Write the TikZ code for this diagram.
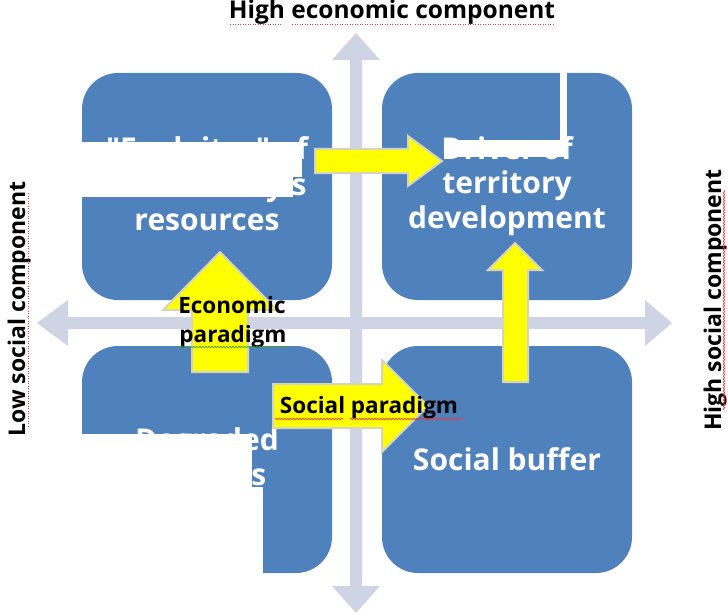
\documentclass[tikz,border=0pt]{standalone}
\usepackage{fontspec}
\newfontfamily\osfont{Open Sans}
\usetikzlibrary{decorations.pathmorphing}
\definecolor{boxblue}{RGB}{79,129,189}
\definecolor{axisgray}{RGB}{206,212,228}
\definecolor{arrowyellow}{RGB}{255,255,0}
\definecolor{arrowedge}{RGB}{212,212,192}
\definecolor{spellred}{RGB}{228,60,60}
\definecolor{spellgreen}{RGB}{70,160,70}
\begin{document}
\begin{tikzpicture}[x=1pt,y=-1pt,
  quad/.style={fill=boxblue,draw=none,rounded corners=36pt,minimum width=250pt,minimum height=227pt,inner sep=0pt,outer sep=0pt},
  boxline/.style={text=white,font=\osfont\bfseries\fontsize{30}{36}\selectfont,anchor=base,inner sep=0pt},
  paralabel/.style={text=black,font=\osfont\bfseries\fontsize{22.5}{27}\selectfont,anchor=base,inner sep=0pt},
  axislabel/.style={text=black,font=\osfont\bfseries\fontsize{23}{28}\selectfont,anchor=base,inner sep=0pt},
  axisbody/.style={fill=axisgray,draw=none},
  blockarrow/.style={fill=arrowyellow,draw=arrowedge,line width=2pt,line join=miter},
  occluder/.style={fill=white,draw=none},
  spelldot/.style={spellred,line width=0.9pt,dash pattern=on 1pt off 1.5pt},
  spellwave/.style={line width=0.7pt,decorate,decoration={snake,amplitude=0.8pt,segment length=3pt}},
]
\useasboundingbox (0,0) rectangle (728,615);
\fill[white] (0,0) rectangle (728,615);

% axes
\coordinate (vtop) at (356,33);
\coordinate (vbot) at (356,613);
\coordinate (hleft) at (37,323);
\coordinate (hright) at (672,323);
\fill[axisbody] (vtop) -- (380,60) -- (362,60) -- (362,586) -- (380,586) -- (vbot)
  -- (332,586) -- (350,586) -- (350,60) -- (332,60) -- cycle;
\fill[axisbody] (hleft) -- (68,300) -- (68,317) -- (645,317) -- (645,300) -- (hright)
  -- (645,346) -- (645,329) -- (68,329) -- (68,346) -- cycle;

% quadrant boxes
\node[quad] (tl) at (207,186.5) {};
\node[quad] (tr) at (507,186.5) {};
\node[quad] (bl) at (207,459.5) {};
\node[quad] (br) at (507,459.5) {};

% box texts
\node[boxline] (tl1) at (207,160) {"Exploiter" of};
\node[boxline] (tl2) at (201,195) {the territory's};
\node[boxline] (tl3) at (207,230) {resources};
\node[boxline] (tr1) at (507,159) {Driver of};
\node[boxline] (tr2) at (507,193.5) {territory};
\node[boxline] (tr3) at (507,228) {development};
\node[boxline] (bl1) at (207,450) {Degraded};
\node[boxline] (bl2) at (199,485) {localities};
\node[boxline] (br1) at (507,470) {Social buffer};

% yellow block arrows
\draw[blockarrow] (315,149) -- (408,149) -- (408,136) -- (442,161) -- (408,186) -- (408,173) -- (315,173) -- cycle;
\draw[blockarrow] (192,372) -- (192,310) -- (163,310) -- (220,252) -- (277,310) -- (248,310) -- (248,372) -- cycle;
\draw[blockarrow] (273,384) -- (382,384) -- (382,360) -- (428,406) -- (382,452) -- (382,428) -- (273,428) -- cycle;
\draw[blockarrow] (503,382) -- (503,270) -- (488,270) -- (515,243) -- (542,270) -- (528,270) -- (528,382) -- cycle;

% arrow labels
\node[paralabel] (eco1) at (232,313) {Economic};
\node[paralabel] (eco2) at (233,342) {paradigm};
\node[paralabel] (soc) at (369,413) {Social paradigm};

% axis labels
\node[axislabel,font=\osfont\bfseries\fontsize{24.5}{28}\selectfont] (ltop) at (392,19) {High economic component};
\node[axislabel,rotate=90] (lleft) at (25,309) {Low social component};
\node[axislabel,rotate=90] (lright) at (721,300) {High social component};

% spell-check marks
\draw[spelldot] (230,24) -- (282,24);
\draw[spelldot] (292,24) -- (411,24);
\draw[spelldot] (415,24) -- (555,24);
\draw[spelldot] (28,193) -- (28,428);
\draw[spellwave,spellred] (724,410) -- (724,190);
\draw[spellwave,spellgreen] (178,347) -- (290,347);
\draw[spellwave,spellred] (275,419) -- (343,419);
\draw[spellwave,spellred] (350,419) -- (463,419);

% white cover-ups
\fill[occluder] (75,142) rectangle (302,177);
\fill[occluder] (75,177) rectangle (293,197);
\fill[occluder] (560,72) rectangle (567,157);
\fill[occluder] (445,140) rectangle (567,157);
\fill[occluder] (60,434) rectangle (252,615);
\fill[occluder] (252,487) rectangle (263,615);
\end{tikzpicture}
\end{document}
